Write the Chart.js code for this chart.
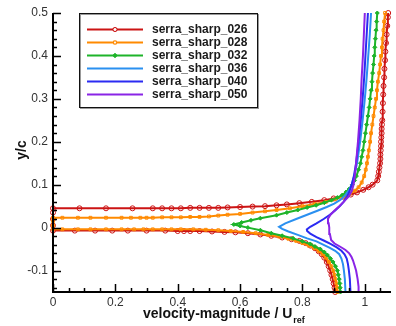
<!DOCTYPE html>
<html lang="en">
<head>
<meta charset="UTF-8">
<title>serra_sharp velocity profiles</title>
<script src="https://cdn.jsdelivr.net/npm/chart.js"></script>
<style>
  html, body { margin: 0; padding: 0; background: #fff; overflow: hidden; }
  #wrap { width: 396px; height: 326px; }
</style>
</head>
<body>
<div id="wrap"><canvas id="myChart"></canvas></div>
<script>
const seriesNames = ['serra_sharp_026', 'serra_sharp_028', 'serra_sharp_032', 'serra_sharp_036', 'serra_sharp_040', 'serra_sharp_050'];
const seriesColors = ['#cc1414', '#ff8a00', '#1eb42a', '#2a90f0', '#2b2bf2', '#8a24e6'];
const xTicks = [0, 0.2, 0.4, 0.6, 0.8, 1];
const xTickLabels = ['0', '0.2', '0.4', '0.6', '0.8', '1'];
const yTicks = [-0.1, 0, 0.1, 0.2, 0.3, 0.4, 0.5];
const yTickLabels = ['-0.1', '0', '0.1', '0.2', '0.3', '0.4', '0.5'];

// serra_sharp_026 : velocity / y over c (bottom to top)
const u026 = [0.905, 0.903, 0.9, 0.897, 0.893, 0.889, 0.884, 0.878, 0.87, 0.862, 0.852, 0.84, 0.826, 0.81, 0.79, 0.765, 0.735, 0.70, 0.665, 0.625, 0.585, 0.55, 0.51, 0.47, 0.44, 0.42, 0.40, 0.36, 0.30, 0.24, 0.19, 0.135, 0.07, 0,
  0, 0, 0, 0,
  0.085, 0.17, 0.255, 0.32, 0.35, 0.38, 0.41, 0.44, 0.47, 0.5, 0.53, 0.56, 0.6, 0.64, 0.68, 0.717, 0.75, 0.79, 0.83, 0.87, 0.9, 0.93, 0.955, 0.975, 0.995, 1.012, 1.025, 1.04,
  1.043, 1.045, 1.047, 1.049, 1.05, 1.05, 1.051, 1.052, 1.052, 1.053, 1.054, 1.054, 1.055, 1.056, 1.057, 1.058, 1.059, 1.06, 1.062, 1.063, 1.065, 1.066, 1.068, 1.07, 1.072, 1.074, 1.075];
const y026 = [-0.15, -0.14, -0.13, -0.12, -0.11, -0.10, -0.09, -0.08, -0.07, -0.062, -0.055, -0.048, -0.042, -0.036, -0.031, -0.027, -0.023, -0.019, -0.016, -0.013, -0.011, -0.010, -0.009, -0.008, -0.008, -0.008, -0.008, -0.007, -0.007, -0.007, -0.007, -0.007, -0.007, -0.007,
  0.005, 0.02, 0.035, 0.045,
  0.045, 0.045, 0.045, 0.045, 0.045, 0.045, 0.045, 0.046, 0.046, 0.046, 0.046, 0.047, 0.048, 0.049, 0.050, 0.052, 0.054, 0.057, 0.060, 0.064, 0.068, 0.072, 0.077, 0.082, 0.088, 0.094, 0.10, 0.11,
  0.12, 0.13, 0.14, 0.15, 0.16, 0.17, 0.18, 0.19, 0.20, 0.21, 0.22, 0.23, 0.24, 0.25, 0.27, 0.29, 0.31, 0.33, 0.35, 0.37, 0.39, 0.41, 0.43, 0.45, 0.47, 0.49, 0.5];

// serra_sharp_028
const u028 = [0.912, 0.911, 0.909, 0.906, 0.903, 0.899, 0.893, 0.885, 0.875, 0.865, 0.853, 0.838, 0.82, 0.80, 0.78, 0.755, 0.725, 0.69, 0.65, 0.61, 0.57, 0.53, 0.49, 0.45, 0.41, 0.38, 0.35, 0.32, 0.29, 0.26, 0.22, 0.17, 0.12, 0.08, 0.03, 0,
  0, 0, 0,
  0.03, 0.08, 0.12, 0.17, 0.22, 0.25, 0.28, 0.30, 0.32, 0.35, 0.38, 0.41, 0.44, 0.47, 0.50, 0.53, 0.56, 0.60, 0.64, 0.68, 0.717, 0.76, 0.80, 0.84, 0.875, 0.905, 0.93, 0.952, 0.968, 0.98, 0.99,
  0.998, 1.003, 1.007, 1.01, 1.013, 1.017, 1.02, 1.024, 1.028, 1.032, 1.036, 1.039, 1.042, 1.046, 1.049, 1.052, 1.055, 1.057, 1.06, 1.062, 1.065];
const y028 = [-0.15, -0.14, -0.13, -0.12, -0.11, -0.10, -0.09, -0.08, -0.07, -0.062, -0.055, -0.048, -0.042, -0.036, -0.031, -0.026, -0.021, -0.017, -0.013, -0.010, -0.008, -0.006, -0.005, -0.004, -0.004, -0.004, -0.004, -0.004, -0.004, -0.004, -0.004, -0.004, -0.004, -0.004, -0.004, -0.004,
  0.005, 0.015, 0.023,
  0.023, 0.023, 0.023, 0.023, 0.023, 0.023, 0.023, 0.023, 0.023, 0.024, 0.024, 0.024, 0.025, 0.025, 0.026, 0.028, 0.030, 0.032, 0.035, 0.038, 0.041, 0.045, 0.050, 0.055, 0.060, 0.066, 0.072, 0.079, 0.086, 0.094, 0.105,
  0.12, 0.135, 0.15, 0.165, 0.18, 0.20, 0.22, 0.24, 0.26, 0.28, 0.30, 0.32, 0.34, 0.36, 0.38, 0.40, 0.42, 0.44, 0.46, 0.48, 0.50];

// serra_sharp_032
const u032 = [0.922, 0.921, 0.92, 0.918, 0.915, 0.912, 0.906, 0.898, 0.89, 0.88, 0.87, 0.857, 0.84, 0.825, 0.80, 0.77, 0.735, 0.70, 0.665, 0.625, 0.60, 0.58, 0.605, 0.635, 0.665, 0.717, 0.75, 0.785, 0.815, 0.844, 0.87, 0.893, 0.912, 0.928, 0.94, 0.95, 0.96, 0.967, 0.973, 0.98, 0.986, 0.99, 0.994, 0.998, 1.002, 1.006, 1.01, 1.014, 1.017, 1.02, 1.023, 1.025, 1.028, 1.03, 1.032, 1.034, 1.036, 1.038, 1.04];
const y032 = [-0.15, -0.14, -0.13, -0.12, -0.11, -0.10, -0.09, -0.08, -0.072, -0.064, -0.057, -0.05, -0.044, -0.038, -0.032, -0.025, -0.019, -0.013, -0.006, 0.0, 0.004, 0.0074, 0.012, 0.017, 0.022, 0.029, 0.035, 0.041, 0.047, 0.052, 0.058, 0.064, 0.07, 0.076, 0.083, 0.09, 0.1, 0.11, 0.12, 0.135, 0.15, 0.165, 0.18, 0.2, 0.22, 0.24, 0.26, 0.28, 0.30, 0.32, 0.34, 0.36, 0.38, 0.40, 0.42, 0.44, 0.46, 0.48, 0.50];

// serra_sharp_036
const u036 = [0.938, 0.936, 0.933, 0.93, 0.925, 0.918, 0.905, 0.888, 0.868, 0.845, 0.815, 0.785, 0.755, 0.735, 0.725, 0.745, 0.78, 0.815, 0.85, 0.878, 0.902, 0.922, 0.937, 0.947, 0.958, 0.966, 0.975, 0.985, 0.993, 1.0, 1.006, 1.011, 1.016, 1.02];
const y036 = [-0.15, -0.12, -0.1, -0.085, -0.072, -0.062, -0.054, -0.047, -0.04, -0.032, -0.025, -0.017, -0.009, -0.003, 0.002, 0.01, 0.02, 0.03, 0.04, 0.048, 0.056, 0.065, 0.075, 0.085, 0.1, 0.12, 0.15, 0.2, 0.25, 0.3, 0.35, 0.4, 0.45, 0.5];

// serra_sharp_040
const u040 = [0.954, 0.952, 0.949, 0.946, 0.942, 0.935, 0.925, 0.91, 0.89, 0.868, 0.845, 0.825, 0.815, 0.814, 0.825, 0.845, 0.868, 0.888, 0.905, 0.92, 0.932, 0.943, 0.951, 0.958, 0.965, 0.972, 0.98, 0.987, 0.993, 0.998, 1.002, 1.006, 1.01];
const y040 = [-0.15, -0.12, -0.1, -0.085, -0.072, -0.062, -0.054, -0.046, -0.038, -0.03, -0.022, -0.014, -0.008, -0.004, 0.002, 0.01, 0.02, 0.03, 0.04, 0.05, 0.06, 0.072, 0.085, 0.1, 0.12, 0.15, 0.2, 0.25, 0.3, 0.35, 0.4, 0.45, 0.5];

// serra_sharp_050
const u050 = [0.98, 0.98, 0.977, 0.972, 0.968, 0.962, 0.957, 0.95, 0.938, 0.92, 0.903, 0.892, 0.888, 0.886, 0.884, 0.882, 0.89, 0.903, 0.918, 0.932, 0.948, 0.958, 0.964, 0.968, 0.972, 0.978, 0.983, 0.987, 0.99, 0.994, 0.997, 1.0];
const y050 = [-0.15, -0.138, -0.12, -0.1, -0.09, -0.076, -0.068, -0.06, -0.052, -0.044, -0.037, -0.029, -0.015, 0.0, 0.01, 0.021, 0.03, 0.04, 0.05, 0.06, 0.072, 0.085, 0.1, 0.12, 0.15, 0.2, 0.25, 0.3, 0.35, 0.4, 0.45, 0.5];

const uSeries = [u026, u028, u032, u036, u040, u050];
const ySeries = [y026, y028, y032, y036, y040, y050];
const markerStyles = ['circle', 'rect', 'rectRot', false, false, false];
const markerRadius = [2.5, 2, 2, 0, 0, 0];

const datasets = seriesNames.map((name, i) => ({
  label: name,
  data: uSeries[i].map((u, k) => ({ x: u, y: ySeries[i][k] })),
  showLine: true,
  borderColor: seriesColors[i],
  backgroundColor: i === 2 ? seriesColors[i] : 'rgba(255,255,255,0)',
  borderWidth: 2,
  pointStyle: markerStyles[i],
  pointRadius: markerRadius[i],
  pointBorderWidth: 1,
  pointBorderColor: seriesColors[i],
  pointBackgroundColor: i === 2 ? seriesColors[i] : 'rgba(255,255,255,0)',
  tension: 0,
  clip: 6,
  order: 6 - i
}));

const frame = {
  id: 'frame',
  afterDraw(chart) {
    const { ctx, chartArea: a, scales: { x, y } } = chart;
    ctx.save();
    ctx.strokeStyle = '#000';
    // axes (left and bottom only)
    ctx.lineWidth = 2;
    ctx.beginPath();
    ctx.moveTo(a.left, a.top);
    ctx.lineTo(a.left, a.bottom);
    ctx.lineTo(a.right, a.bottom);
    ctx.stroke();
    // inward ticks
    ctx.lineWidth = 1.5;
    ctx.beginPath();
    for (let k = 0; k <= 21; k++) {
      const px = Math.round(x.getPixelForValue(k * 0.05)) + 0.5;
      const len = (k % 4 === 0) ? 8 : 4;
      ctx.moveTo(px, a.bottom);
      ctx.lineTo(px, a.bottom - len);
    }
    for (let k = -7; k <= 25; k++) {
      const py = Math.round(y.getPixelForValue(k * 0.02)) + 0.5;
      const len = (k % 5 === 0) ? 8 : 4;
      ctx.moveTo(a.left, py);
      ctx.lineTo(a.left + len, py);
    }
    ctx.stroke();

    // axis titles
    ctx.fillStyle = '#111';
    ctx.font = 'bold 14px Arial, "Liberation Sans", sans-serif';
    ctx.textBaseline = 'alphabetic';
    ctx.textAlign = 'left';
    const main = 'velocity-magnitude / U';
    ctx.fillText(main, 143, 318);
    const w = ctx.measureText(main).width;
    ctx.font = 'bold 9px Arial, "Liberation Sans", sans-serif';
    ctx.fillText('ref', 143 + w + 1, 323);

    ctx.save();
    ctx.translate(26, 150);
    ctx.rotate(-Math.PI / 2);
    ctx.font = 'bold 14px Arial, "Liberation Sans", sans-serif';
    ctx.textAlign = 'center';
    ctx.fillText('y/c', 0, 0);
    ctx.restore();

    // legend box
    const bx = 79, by = 13, bw = 178, bh = 94;
    ctx.fillStyle = '#fff';
    ctx.fillRect(bx, by, bw, bh);
    ctx.strokeStyle = '#999';
    ctx.lineWidth = 1;
    ctx.strokeRect(bx + 1.5, by + 1.5, bw, bh);
    ctx.strokeStyle = '#111';
    ctx.strokeRect(bx + 0.5, by + 0.5, bw, bh);
    seriesNames.forEach((name, i) => {
      const ry = 29.5 + i * 13;
      ctx.strokeStyle = seriesColors[i];
      ctx.lineWidth = 2;
      ctx.beginPath();
      ctx.moveTo(87, ry);
      ctx.lineTo(143, ry);
      ctx.stroke();
      if (markerStyles[i]) {
        ctx.lineWidth = 1;
        ctx.fillStyle = i === 2 ? seriesColors[i] : '#fff';
        Chart.helpers.drawPoint(ctx, { pointStyle: markerStyles[i], radius: 2, borderWidth: 1 }, 115, ry);
        ctx.fill();
        ctx.stroke();
      }
      ctx.fillStyle = '#1a1a1a';
      ctx.font = 'bold 12px Arial, "Liberation Sans", sans-serif';
      ctx.textAlign = 'left';
      ctx.textBaseline = 'middle';
      ctx.fillText(name, 152, ry + 0.5);
    });
    ctx.restore();
  }
};

const ctx = document.getElementById('myChart').getContext('2d');
const myChart = new Chart(ctx, {
  type: 'scatter',
  data: { datasets: datasets },
  options: {
    responsive: true,
    maintainAspectRatio: false,
    animation: false,
    layout: { padding: { top: 13, right: 0, bottom: 0, left: 0 } },
    plugins: {
      legend: { display: false },
      tooltip: { enabled: false }
    },
    scales: {
      x: {
        type: 'linear',
        min: 0,
        max: 1.084,
        grid: { display: false, drawTicks: false },
        border: { display: false },
        afterBuildTicks: (scale) => { scale.ticks = xTicks.map(v => ({ value: v })); },
        afterFit: (scale) => { scale.height = 34; },
        ticks: {
          padding: 3,
          color: '#333',
          font: { family: 'Arial, "Liberation Sans", sans-serif', size: 12 },
          callback: (v) => xTickLabels[xTicks.findIndex(t => Math.abs(t - v) < 1e-6)]
        }
      },
      y: {
        type: 'linear',
        min: -0.15,
        max: 0.5,
        grid: { display: false, drawTicks: false },
        border: { display: false },
        afterBuildTicks: (scale) => { scale.ticks = yTicks.map(v => ({ value: v })); },
        afterFit: (scale) => { scale.width = 53; },
        ticks: {
          padding: 5,
          color: '#333',
          font: { family: 'Arial, "Liberation Sans", sans-serif', size: 12 },
          callback: (v) => yTickLabels[yTicks.findIndex(t => Math.abs(t - v) < 1e-6)]
        }
      }
    }
  },
  plugins: [frame]
});
</script>
</body>
</html>
